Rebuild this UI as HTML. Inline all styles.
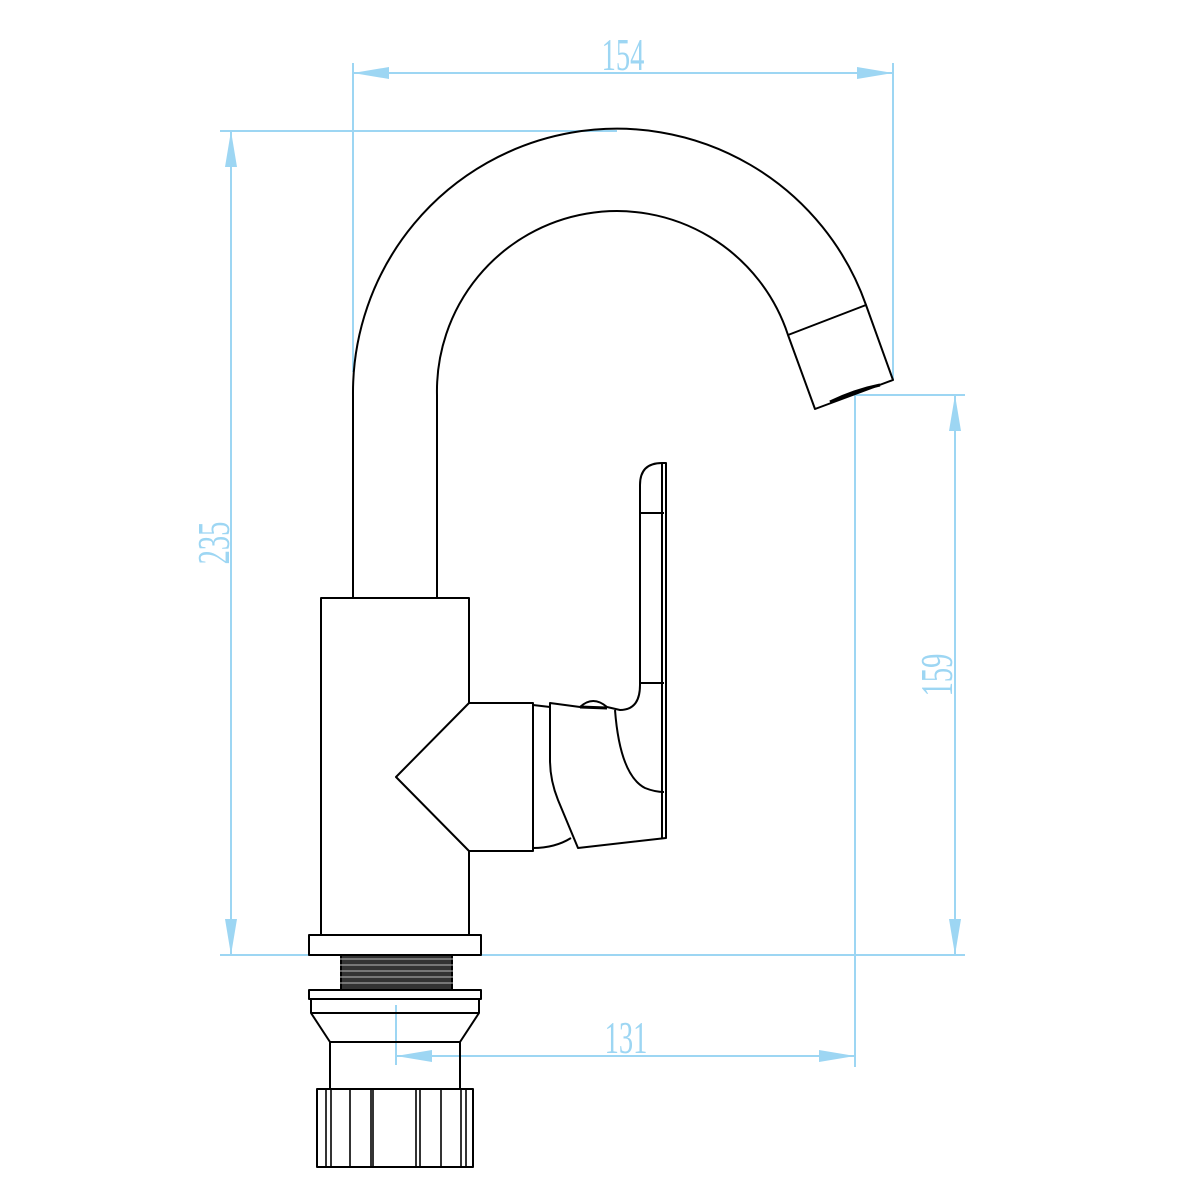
<!DOCTYPE html>
<html><head><meta charset="utf-8"><style>html,body{margin:0;padding:0;background:#fff}svg{display:block}</style></head>
<body>
<svg width="1200" height="1200" viewBox="0 0 1200 1200" xmlns="http://www.w3.org/2000/svg">
<g stroke="#9dd6f3" stroke-width="2" fill="none">
  <line x1="353" y1="63" x2="353" y2="372"/>
  <line x1="893" y1="63" x2="893" y2="380"/>
  <line x1="353" y1="73" x2="893" y2="73"/>
  <line x1="220" y1="131" x2="617" y2="131"/>
  <line x1="220" y1="955" x2="965" y2="955"/>
  <line x1="231" y1="131" x2="231" y2="955"/>
  <line x1="855" y1="395" x2="965" y2="395"/>
  <line x1="955" y1="395" x2="955" y2="955"/>
  <line x1="855" y1="395" x2="855" y2="1067"/>
  <line x1="396" y1="1005" x2="396" y2="1065"/>
  <line x1="396" y1="1056" x2="855" y2="1056"/>
</g>
<g fill="#9dd6f3">
  <polygon points="353,73 389,67 389,79"/>
  <polygon points="893,73 857,67 857,79"/>
  <polygon points="231,131 225,167 237,167"/>
  <polygon points="231,955 225,919 237,919"/>
  <polygon points="955,395 949,431 961,431"/>
  <polygon points="955,955 949,919 961,919"/>
  <polygon points="396,1056 432,1050 432,1062"/>
  <polygon points="855,1056 819,1050 819,1062"/>
</g>
<g fill="#9dd6f3" font-family="Liberation Serif, serif" font-size="46">
  <text transform="translate(623,70) scale(0.62,1)" text-anchor="middle">154</text>
  <text transform="translate(626,1053) scale(0.62,1)" text-anchor="middle">131</text>
  <text transform="translate(229,543) rotate(-90) scale(0.62,1)" text-anchor="middle">235</text>
  <text transform="translate(952,675) rotate(-90) scale(0.62,1)" text-anchor="middle">159</text>
</g>
<g stroke="#000" stroke-width="2" fill="none" stroke-linejoin="round">
  <!-- spout -->
  <path d="M353,598 L353,395 A264,264 0 0 1 866,305"/>
  <path d="M437,598 L437,395 A180,180 0 0 1 788,335"/>
  <path d="M788,335 L866,305 L893,380 L815,409 Z"/>
  <path d="M830,402 Q855,390 880,385" stroke-width="3"/>
  <!-- body -->
  <rect x="321" y="598" width="148" height="337" fill="#fff"/>
  <path d="M469,703 L533,703 L533,851 L469,851 L396,777 Z" fill="#fff"/>
  <!-- handle -->
  <path d="M533,705 L550,707"/>
  <path d="M533,848 Q555,848 571,838"/>
  <path d="M550,703 L580,707 Q593,695 607,707 L620,710 Q640,710 640,685 L640,485 Q640,463 662,463 L666,463 L666,838 L578,848 L558,800 Q550,780 550,760 Z"/>
  <path d="M580,707 L607,708" stroke-width="3"/>
  <line x1="662" y1="463" x2="662" y2="838"/>
  <line x1="640" y1="513" x2="664" y2="513"/>
  <line x1="640" y1="683" x2="664" y2="683"/>
  <path d="M615,710 Q620,775 645,788 Q655,792 664,792"/>
  <!-- base -->
  <rect x="309" y="935" width="172" height="20" fill="#fff"/>
  <rect x="341" y="955" width="111" height="35" fill="#333"/>
  <rect x="309" y="990" width="172" height="9" fill="#fff"/>
  <path d="M311,999 L311,1013 L330,1042 L460,1042 L479,1013 L479,999"/>
  <line x1="311" y1="1013" x2="479" y2="1013"/>
  <rect x="330" y="1042" width="130" height="47"/>
  <rect x="317" y="1089" width="156" height="78"/>
  <g stroke-width="1.6">
  <line x1="326" y1="1089" x2="326" y2="1167"/>
  <line x1="331" y1="1089" x2="331" y2="1167"/>
  <line x1="350" y1="1089" x2="350" y2="1167"/>
  <line x1="371" y1="1089" x2="371" y2="1167"/>
  <line x1="373" y1="1089" x2="373" y2="1167"/>
  <line x1="416" y1="1089" x2="416" y2="1167"/>
  <line x1="420" y1="1089" x2="420" y2="1167"/>
  <line x1="441" y1="1089" x2="441" y2="1167"/>
  <line x1="461" y1="1089" x2="461" y2="1167"/>
  <line x1="466" y1="1089" x2="466" y2="1167"/>
  </g>
</g>
<g stroke="#bbb" stroke-width="1">
  <line x1="340" y1="959" x2="453" y2="959"/>
  <line x1="340" y1="965" x2="453" y2="965"/>
  <line x1="340" y1="971" x2="453" y2="971"/>
  <line x1="340" y1="977" x2="453" y2="977"/>
  <line x1="340" y1="983" x2="453" y2="983"/>
</g>
</svg>
</body></html>
